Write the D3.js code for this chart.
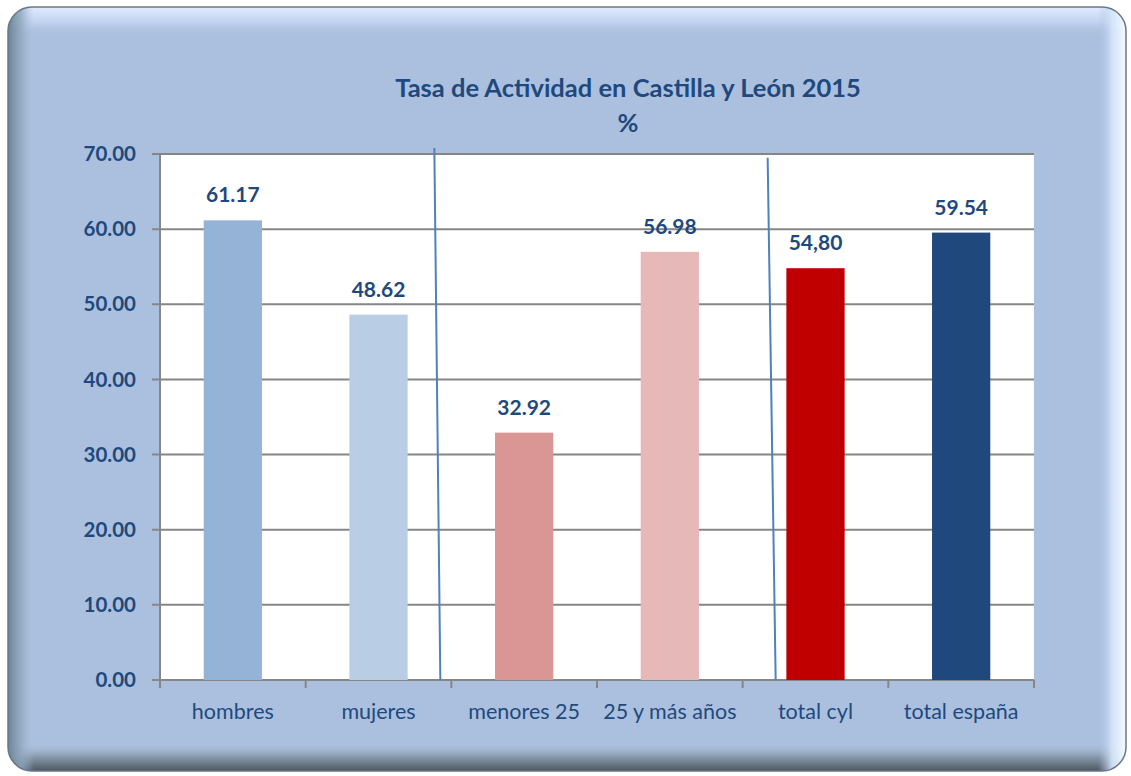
<!DOCTYPE html>
<html>
<head>
<meta charset="utf-8">
<script src="https://cdn.jsdelivr.net/npm/d3@7/dist/d3.min.js"></script>
<style>
  body { margin: 0; background: #fff; }
  svg { display: block; }
  text { font-family: Lato, "Open Sans", sans-serif; }
</style>
</head>
<body>
<svg width="1131" height="776"></svg>
<script>
// data
const categories = ['hombres', 'mujeres', 'menores 25', '25 y más años', 'total cyl', 'total españa'];
const values = [61.17, 48.62, 32.92, 56.98, 54.80, 59.54];
const valueLabels = ['61.17', '48.62', '32.92', '56.98', '54,80', '59.54'];
const barColors = ['#95b3d7', '#b9cde5', '#d99694', '#e6b9b8', '#c00000', '#1f497d'];
const yTicks = [0, 10, 20, 30, 40, 50, 60, 70];
// hand-drawn separators between groups (band boundary index, top value, drift from the boundary)
const separators = [
  { after: 1, top: 70.8, dTop: -17, dBottom: -11 },
  { after: 3, top: 69.5, dTop: 25, dBottom: 33 }
];

const svg = d3.select('svg'),
    margin = { top: 154, right: 97, bottom: 96, left: 160 },
    width = +svg.attr('width') - margin.left - margin.right,
    height = +svg.attr('height') - margin.top - margin.bottom;

const textColor = '#1f497d';

// frame with bevel
const defs = svg.append('defs');
defs.append('clipPath').attr('id', 'frameClip')
  .append('rect').attr('x', 8).attr('y', 7).attr('width', 1118).attr('height', 764).attr('rx', 24);

function grad(id, x2, y2, stops) {
  const g = defs.append('linearGradient').attr('id', id)
    .attr('x1', 0).attr('y1', 0).attr('x2', x2).attr('y2', y2);
  stops.forEach(s => g.append('stop').attr('offset', s[0]).attr('stop-color', s[1]).attr('stop-opacity', s[2]));
}
grad('gTop', 0, 1, [[0, '#e2ecff', 1], [0.5, '#c8d8f4', 0.8], [1, '#abc0de', 0]]);
grad('gBottom', 0, 1, [[0, '#abc0de', 0], [0.5, '#7d8d9c', 0.8], [1, '#4a555e', 1]]);
grad('gLeft', 1, 0, [[0, '#6d8497', 1], [0.5, '#8ea6bd', 0.8], [1, '#abc0de', 0]]);
grad('gRight', 1, 0, [[0, '#abc0de', 0], [0.5, '#d6e6fb', 0.9], [1, '#f4fbff', 1]]);

const frame = svg.append('g').attr('clip-path', 'url(#frameClip)');
frame.append('rect').attr('x', 8).attr('y', 7).attr('width', 1118).attr('height', 764).attr('fill', '#abc0de');
frame.append('rect').attr('x', 8).attr('y', 7).attr('width', 1118).attr('height', 30).attr('fill', 'url(#gTop)');
frame.append('rect').attr('x', 8).attr('y', 743).attr('width', 1118).attr('height', 28).attr('fill', 'url(#gBottom)');
frame.append('rect').attr('x', 8).attr('y', 7).attr('width', 26).attr('height', 764).attr('fill', 'url(#gLeft)');
frame.append('rect').attr('x', 1098).attr('y', 7).attr('width', 28).attr('height', 764).attr('fill', 'url(#gRight)');
svg.append('rect').attr('x', 8).attr('y', 7).attr('width', 1118).attr('height', 764).attr('rx', 24)
  .attr('fill', 'none').attr('stroke', '#687885').attr('stroke-width', 1.5);

// scales
const x = d3.scaleBand().domain(categories).range([0, width]).paddingInner(0.6).paddingOuter(0.3);
const xb = d3.scaleBand().domain(categories).range([0, width]);
const y = d3.scaleLinear().domain([0, 70]).range([height, 0]);

const g = svg.append('g').attr('transform', 'translate(' + margin.left + ',' + margin.top + ')');

// plot area
g.append('rect').attr('width', width).attr('height', height).attr('fill', '#fff');

// gridlines
g.selectAll('.grid').data(yTicks).enter().append('line')
  .attr('x1', -8).attr('x2', width)
  .attr('y1', d => y(d)).attr('y2', d => y(d))
  .attr('stroke', '#868686').attr('stroke-width', 2);

// y axis line
g.append('line').attr('x1', 0).attr('x2', 0).attr('y1', 0).attr('y2', height + 8)
  .attr('stroke', '#868686').attr('stroke-width', 2);

// x ticks
g.selectAll('.xtick').data(d3.range(categories.length + 1)).enter().append('line')
  .attr('x1', i => i * xb.bandwidth()).attr('x2', i => i * xb.bandwidth())
  .attr('y1', height).attr('y2', height + 8)
  .attr('stroke', '#868686').attr('stroke-width', 2);

// y labels
g.selectAll('.ylab').data(yTicks).enter().append('text')
  .attr('x', -24).attr('y', d => y(d)).attr('dy', '0.35em')
  .attr('text-anchor', 'end').attr('font-weight', 'bold').attr('font-size', 20.5)
  .attr('fill', textColor).text(d => d.toFixed(2));

// bars
g.selectAll('.bar').data(values).enter().append('rect')
  .attr('x', (d, i) => x(categories[i]))
  .attr('y', d => y(d))
  .attr('width', x.bandwidth())
  .attr('height', d => height - y(d))
  .attr('fill', (d, i) => barColors[i]);

// value labels
g.selectAll('.vlab').data(values).enter().append('text')
  .attr('x', (d, i) => x(categories[i]) + x.bandwidth() / 2)
  .attr('y', d => y(d) - 18)
  .attr('text-anchor', 'middle').attr('font-weight', 'bold').attr('font-size', 21)
  .attr('fill', textColor).text((d, i) => valueLabels[i]);

// x labels
g.selectAll('.xlab').data(categories).enter().append('text')
  .attr('x', d => xb(d) + xb.bandwidth() / 2)
  .attr('y', height + 39)
  .attr('text-anchor', 'middle').attr('font-size', 21.5)
  .attr('fill', textColor).text(d => d);

// separator lines
g.selectAll('.sep').data(separators).enter().append('line')
  .attr('x1', d => (d.after + 1) * xb.bandwidth() + d.dTop)
  .attr('x2', d => (d.after + 1) * xb.bandwidth() + d.dBottom)
  .attr('y1', d => y(d.top)).attr('y2', height)
  .attr('stroke', '#4f81bd').attr('stroke-width', 2);

// title
svg.append('text').attr('x', 628).attr('y', 97)
  .attr('text-anchor', 'middle').attr('font-weight', 'bold').attr('font-size', 25.5)
  .attr('fill', textColor).text('Tasa de Actividad en Castilla y León 2015');
svg.append('text').attr('x', 628).attr('y', 132)
  .attr('text-anchor', 'middle').attr('font-weight', 'bold').attr('font-size', 25.5)
  .attr('fill', textColor).text('%');
</script>
</body>
</html>
